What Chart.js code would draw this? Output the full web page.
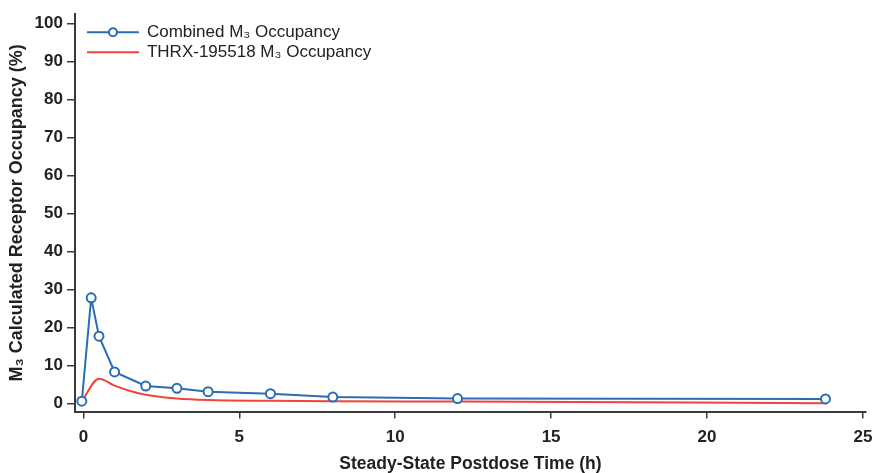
<!DOCTYPE html>
<html>
<head>
<meta charset="utf-8">
<script src="https://cdn.jsdelivr.net/npm/chart.js@4.4.1/dist/chart.umd.min.js"></script>
<style>
  html, body { margin: 0; padding: 0; background: #fff; }
  #wrap { width: 873px; height: 473px; position: relative; }
</style>
</head>
<body>
<div id="wrap"><canvas id="chart"></canvas></div>
<script>
// Donnees
const combinedTimes = [-0.05, 0.25, 0.5, 1, 2, 3, 4, 6, 8, 12, 23.8]
const combinedValues = [0.6, 27.8, 17.7, 8.3, 4.6, 4.0, 3.1, 2.6, 1.7, 1.3, 1.2]

const thrxTimes = [-0.05, 0.5, 1, 1.5, 2, 3, 4, 6, 8, 12, 23.8]
const thrxValues = [0.6, 6.5, 4.7, 3.3, 2.3, 1.3, 0.9, 0.7, 0.6, 0.5, 0.1]

const seriesLabels = ['Combined M\u2083 Occupancy', 'THRX-195518 M\u2083 Occupancy']
const xTicks = [0, 5, 10, 15, 20, 25]
const yTicks = [0, 10, 20, 30, 40, 50, 60, 70, 80, 90, 100]

const BLUE = '#2a6db5'
const RED = '#f0453a'
const AXIS = '#3a3a3a'
const FONT = "'Liberation Sans', Arial, sans-serif"

const toPoints = (xs, ys) => xs.map((x, i) => ({ x: x, y: ys[i] }))

// Legende dessinee dans la zone du graphique (coin haut gauche)
const insideLegend = {
    id: 'insideLegend',
    afterDraw(chart) {
        const ctx = chart.ctx
        const area = chart.chartArea
        const x0 = area.left + 12
        const rows = [
            { color: BLUE, marker: true, y: area.top + 18 },
            { color: RED, marker: false, y: area.top + 38 }
        ]
        ctx.save()
        rows.forEach((row, i) => {
            ctx.strokeStyle = row.color
            ctx.lineWidth = 2
            ctx.beginPath()
            ctx.moveTo(x0, row.y)
            ctx.lineTo(x0 + 52, row.y)
            ctx.stroke()
            if (row.marker) {
                ctx.fillStyle = '#fff'
                ctx.beginPath()
                ctx.arc(x0 + 26, row.y, 4, 0, Math.PI * 2)
                ctx.fill()
                ctx.stroke()
            }
            ctx.fillStyle = '#222'
            ctx.font = '17px ' + FONT
            ctx.textBaseline = 'middle'
            ctx.textAlign = 'left'
            ctx.fillText(seriesLabels[i], x0 + 60, row.y)
        })
        ctx.restore()
    }
}

new Chart(document.getElementById('chart'), {
    type: 'line',
    data: {
        datasets: [
            {
                label: seriesLabels[0],
                data: toPoints(combinedTimes, combinedValues),
                borderColor: BLUE,
                borderWidth: 2,
                pointRadius: 4.5,
                pointBorderWidth: 2,
                pointBackgroundColor: '#fff',
                pointBorderColor: BLUE,
                tension: 0
            },
            {
                label: seriesLabels[1],
                data: toPoints(thrxTimes, thrxValues),
                borderColor: RED,
                borderWidth: 2,
                pointRadius: 0,
                cubicInterpolationMode: 'monotone'
            }
        ]
    },
    plugins: [insideLegend],
    options: {
        responsive: true,
        maintainAspectRatio: false,
        animation: false,
        layout: { padding: { top: 14, right: 0, left: 6, bottom: 0 } },
        plugins: {
            legend: { display: false },
            tooltip: { enabled: false }
        },
        scales: {
            x: {
                type: 'linear',
                min: -0.27,
                max: 25.1,
                afterBuildTicks: axis => { axis.ticks = xTicks.map(v => ({ value: v })) },
                // laisser le "25" deborder un peu a droite comme sur la figure
                afterFit: axis => { axis.paddingRight = 7 },
                grid: { drawOnChartArea: false, drawTicks: true, tickLength: 7, color: AXIS, lineWidth: 1.5 },
                border: { display: true, color: AXIS, width: 2 },
                ticks: { color: '#222', font: { family: FONT, size: 17, weight: 'bold', lineHeight: 1.0 }, padding: 10 },
                title: {
                    display: true,
                    text: 'Steady-State Postdose Time (h)',
                    color: '#222',
                    font: { family: FONT, size: 17.5, weight: 'bold', lineHeight: 1.0 },
                    padding: { top: 0, bottom: 0 }
                }
            },
            y: {
                type: 'linear',
                min: -2.1,
                max: 102.4,
                afterBuildTicks: axis => { axis.ticks = yTicks.map(v => ({ value: v })) },
                grid: { drawOnChartArea: false, drawTicks: true, tickLength: 8, color: AXIS, lineWidth: 1.5 },
                border: { display: true, color: AXIS, width: 2 },
                ticks: { color: '#222', font: { family: FONT, size: 17, weight: 'bold' }, padding: 4 },
                title: {
                    display: true,
                    text: 'M\u2083 Calculated Receptor Occupancy (%)',
                    color: '#222',
                    font: { family: FONT, size: 18, weight: 'bold' },
                    padding: { top: 0, bottom: 3 }
                }
            }
        }
    }
})
</script>
</body>
</html>
